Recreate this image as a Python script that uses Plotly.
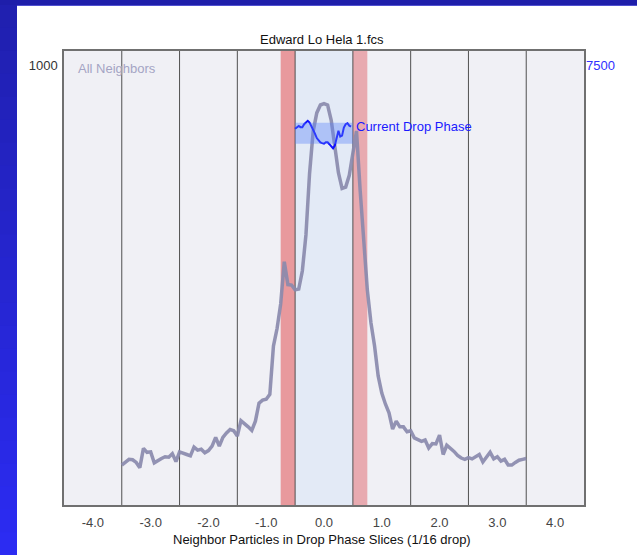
import plotly.graph_objects as go

# ---- data ----
step = 1.0 / 16
all_x = [-3.5 + k * step for k in range(113)]
all_neighbors = [
    91, 98, 104, 103, 97, 85, 129, 120, 121, 96,
    102, 106, 110, 109, 117, 99, 121, 119, 115, 112,
    132, 125, 127, 119, 124, 134, 154, 134, 154, 164,
    172, 169, 157, 192, 186, 178, 170, 191, 232, 239,
    241, 252, 362, 402, 458, 554, 502, 501, 490, 492,
    533, 615, 755, 851, 893, 911, 914, 911, 876, 815,
    757, 721, 724, 751, 802, 852, 718, 599, 490, 415,
    362, 294, 255, 230, 210, 173, 191, 178, 178, 167,
    169, 153, 150, 145, 148, 130, 140, 139, 159, 115,
    136, 130, 122, 113, 107, 104, 108, 105, 109, 115,
    98, 108, 120, 105, 110, 100, 104, 91, 91, 97,
    102, 104, 106,
]

cur_x = [-0.5 + j / 32 for j in range(32)]
current_phase = [
    6428, 6456, 6476, 6454, 6452, 6504, 6538, 6562, 6531, 6476,
    6418, 6343, 6268, 6227, 6193, 6182, 6172, 6198, 6196, 6163,
    6121, 6092, 6138, 6257, 6394, 6292, 6309, 6446, 6505, 6522,
    6480, 6463,
]
cur_band = [6172, 6530]          # low / high of current phase band
drop_window = [-0.5, 0.5]        # current drop slice window
red_bands = [[-0.75, -0.5], [0.5, 0.75]]
tick_vals = [-4, -3, -2, -1, 0, 1, 2, 3, 4]
tick_text = ["-4.0", "-3.0", "-2.0", "-1.0", "0.0", "1.0", "2.0", "3.0", "4.0"]
left_max, right_max = 1000, 7500

FONT = "Liberation Sans, Arial, sans-serif"
FS = 13
W, H = 637, 555
ML, MR, MT, MB = 64, 53, 51, 50
PW, PH = W - ML - MR, H - MT - MB

fig = go.Figure()
fig.add_trace(go.Scatter(
    x=all_x, y=all_neighbors, mode="lines",
    line=dict(color="rgba(138,138,172,0.92)", width=3.5),
    hoverinfo="skip", showlegend=False))
fig.add_trace(go.Scatter(
    x=cur_x, y=current_phase, mode="lines", yaxis="y2",
    line=dict(color="#1010ff", width=2),
    hoverinfo="skip", showlegend=False))

shapes = []
# drop window band
shapes.append(dict(type="rect", xref="x", yref="paper", x0=drop_window[0], x1=drop_window[1],
                   y0=0, y1=1, fillcolor="#e3eaf6", line_width=0, layer="below"))
cols = ["#e8999d", "#e8aab0"]
for (a, b), c in zip(red_bands, cols):
    shapes.append(dict(type="rect", xref="x", yref="paper", x0=a, x1=b, y0=0, y1=1,
                       fillcolor=c, line_width=0, layer="below"))
# current phase band
shapes.append(dict(type="rect", xref="x", yref="y2", x0=drop_window[0], x1=drop_window[1],
                   y0=cur_band[0], y1=cur_band[1], fillcolor="rgba(90,130,250,0.38)",
                   line_width=0, layer="above"))
# vertical slice lines at half integers
for v in [-3.5, -2.5, -1.5, -0.5, 0.5, 1.5, 2.5, 3.5]:
    shapes.append(dict(type="line", xref="x", yref="paper", x0=v, x1=v, y0=0, y1=1,
                       line=dict(color="#505050", width=1), layer="below"))

# frame decoration: top bar and left gradient strip
def px2x(p):
    return (p - ML) / PW

def py2y(p):
    return (H - MB - p) / PH

shapes.append(dict(type="rect", xref="paper", yref="paper", x0=px2x(0), x1=px2x(W),
                   y0=py2y(5), y1=py2y(-1), fillcolor="#1e1eaa", line_width=0))
shapes.append(dict(type="rect", xref="paper", yref="paper", x0=px2x(0), x1=px2x(W),
                   y0=py2y(6), y1=py2y(5), fillcolor="#5050d0", line_width=0))
n = 24
for i in range(n):
    t = i / (n - 1)
    r = int(32 + 12 * t); g = int(32 + 12 * t); bl = int(176 + 66 * t)
    y0p = 5 + (H - 5) * i / n
    y1p = 5 + (H - 5) * (i + 1) / n + 1
    shapes.append(dict(type="rect", xref="paper", yref="paper", x0=px2x(0), x1=px2x(17),
                       y0=py2y(y1p), y1=py2y(y0p), fillcolor=f"rgb({r},{g},{bl})", line_width=0))

annotations = [
    dict(text="All Neighbors", xref="paper", yref="paper", x=px2x(76), y=py2y(69),
         xanchor="left", yanchor="middle", showarrow=False,
         font=dict(family=FONT, size=FS, color="#a4a4c4")),
    dict(text="Current Drop Phase", xref="paper", yref="paper", x=px2x(354), y=py2y(127),
         xanchor="left", yanchor="middle", showarrow=False,
         font=dict(family=FONT, size=FS, color="#1a1aff")),
    dict(text="Neighbor Particles in Drop Phase Slices (1/16 drop)", xref="paper", yref="paper",
         x=px2x(322), y=py2y(539), xanchor="center", yanchor="middle", showarrow=False,
         font=dict(family=FONT, size=FS, color="#111111")),
    dict(text="Edward Lo Hela 1.fcs", xref="paper", yref="paper",
         x=px2x(322), y=py2y(40), xanchor="center", yanchor="middle", showarrow=False,
         font=dict(family=FONT, size=FS, color="#111111")),
]

ytop = left_max * 1.034
fig.update_layout(
    width=W, height=H, margin=dict(l=ML, r=MR, t=MT, b=MB),
    paper_bgcolor="white", plot_bgcolor="#f0f0f5",
    shapes=shapes, annotations=annotations,
    xaxis=dict(range=[-4.5, 4.5], tickvals=tick_vals, ticktext=tick_text, showgrid=False,
               zeroline=False, showline=True, linecolor="#707070", linewidth=1.5, mirror=True,
               ticks="", ticklabelstandoff=5,
               tickfont=dict(family=FONT, size=FS, color="#444444")),
    yaxis=dict(range=[0, ytop], tickvals=[left_max], ticktext=[str(left_max)], showgrid=False,
               zeroline=False, showline=True, linecolor="#707070", linewidth=1.5, mirror=True,
               ticks="", ticklabelstandoff=2,
               tickfont=dict(family=FONT, size=FS, color="#333333")),
    yaxis2=dict(range=[0, right_max * 1.034], overlaying="y", side="right",
                tickvals=[right_max], ticktext=[str(right_max)], showgrid=False,
                zeroline=False, showline=False, ticks="", ticklabelstandoff=1,
                tickfont=dict(family=FONT, size=FS, color="#3030ff")),
)

fig.write_html("out.html")
